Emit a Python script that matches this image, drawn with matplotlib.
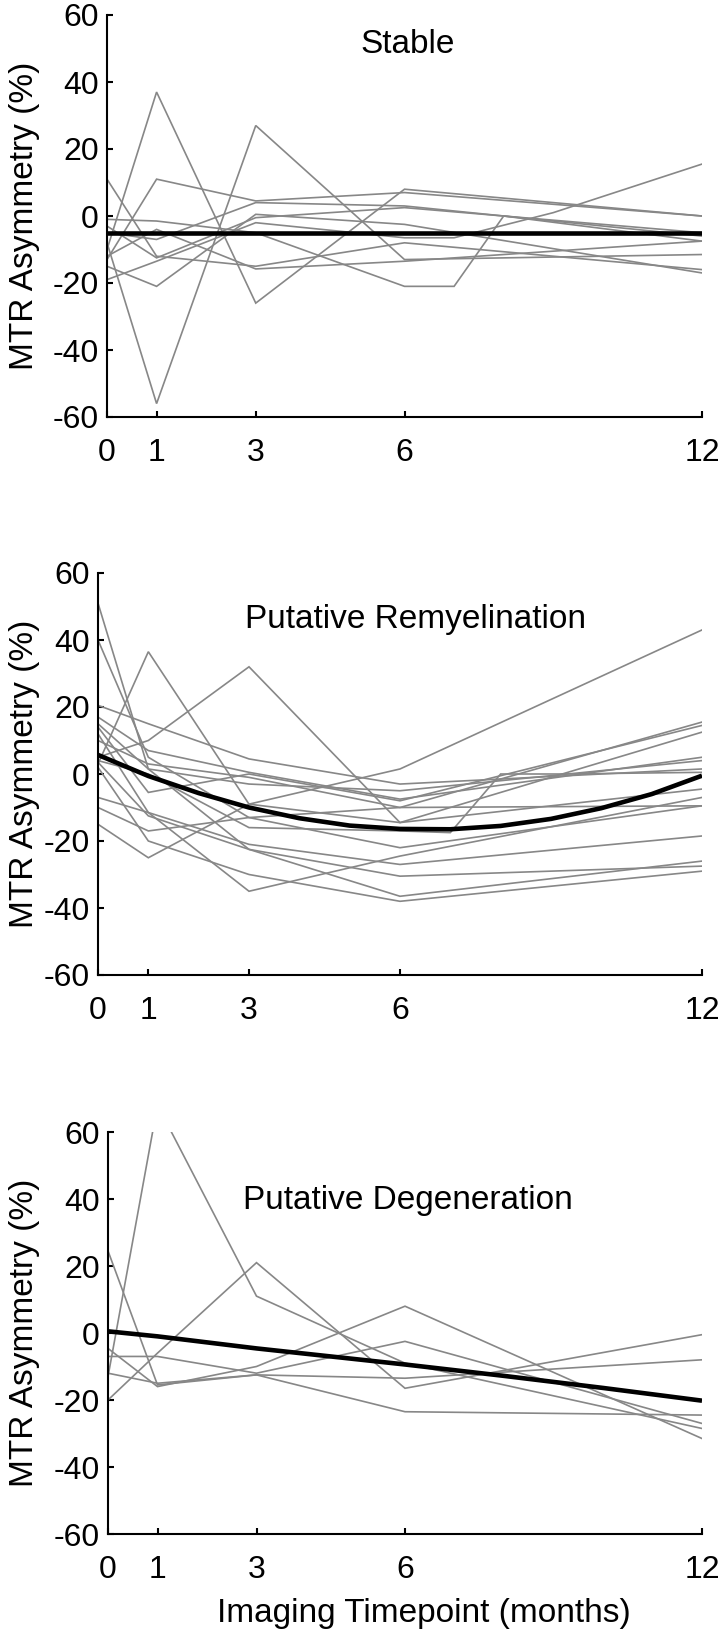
import matplotlib
matplotlib.use("Agg")
import matplotlib.pyplot as plt

plt.rcParams['font.family'] = ['Liberation Sans', 'DejaVu Sans']

# ---------------- data ----------------
months_ticks = [0, 1, 3, 6, 12]
y_ticks = [-60, -40, -20, 0, 20, 40, 60]
t5 = [0, 1, 3, 6, 12]
t_fit = [0, 1, 2, 3, 4, 5, 6, 7, 8, 9, 10, 11, 12]

# Stable group: individual lesions (x, y)
stable_x = [t5, t5, t5, t5, [0, 1, 3, 6, 7, 8, 12], [0, 1, 3, 6, 7, 9, 12],
            t5, t5, t5, t5]
stable_y = [
    [-10, 37, -26, 8, 0],
    [-8, -56, 27, -13, -11.5],
    [-13, 11, 4.5, 7, 0],
    [11, -12, -15, -8, -16],
    [-1, -1.5, -5, -21, -21, 0, -7.5],
    [-19, -13.5, -2, -6.5, -6.5, 1, 15.5],
    [-15, -21, 0.5, -2.5, -17],
    [-5, -7, 4, 3, -6],
    [-12, -4, -15.8, -13.5, -7.5],
    [-3, -12.5, -0.5, 2.5, -5],
]
stable_fit_x = [0, 12]
stable_fit_y = [-5, -5]

# Putative remyelination group
remy_x = [t5, t5, t5, t5, t5, t5, t5, t5, t5, [0, 1, 3, 6, 7, 8, 9.2, 12],
          t5, t5, t5, t5, t5, t5]
remy_y = [
    [51, 1.5, -22.5, -30.5, -27.5],
    [40, 5, -13, -22, -9.5],
    [3, 36.5, -9, 1.5, 43],
    [5, 10, 32, -14.5, 12.5],
    [20.5, 15, 4.5, -3, 1.5],
    [17, 7, 0.5, -7.5, 5],
    [15, 1.5, -3, -5, 4],
    [14, -5.5, 0, -8, 14.5],
    [12, -11.5, -21, -27, -18.5],
    [4, 0, -16, -17, -17.5, 0, 0, 0.5],
    [3.5, -12.5, -22.5, -36.5, -26],
    [2, -20, -30, -38, -29],
    [-7, -11.5, -35, -24.5, -7],
    [-10, -17, -13, -10, -9.5],
    [-15, -25, -9, -14.5, -4.5],
    [10, 3, -1, -10, 15.5],
]
remy_fit_y = [5.7, -0.6, -5.7, -10, -13.2, -15.4, -16.4, -16.5, -15.5, -13.4,
              -10.2, -6, -0.5]

# Putative degeneration group
degen_x = [t5, t5, t5, t5, t5, t5]
degen_y = [
    [-13, 68, 11, -9, -28.5],
    [24.5, -15.5, -12.5, -13.5, -8],
    [-20, -6, 21, -16.5, -0.5],
    [-4.6, -16, -10, 8, -31.5],
    [-7, -7, -12, -2.5, -27],
    [-12, -15, -12.5, -23.5, -24.5],
]
degen_fit_y = [0.5, -1.0, -2.8, -4.6, -6.2, -7.8, -9.4, -11.1, -12.8, -14.6,
               -16.4, -18.3, -20.2]

titles = ["Stable", "Putative Remyelination", "Putative Degeneration"]
ylabel = "MTR Asymmetry (%)"
xlabel = "Imaging Timepoint (months)"

# ---------------- figure ----------------
W, H = 728, 1642
fig = plt.figure(figsize=(W / 100, H / 100), dpi=100)

def rect(x0, x1, ytop, ybot):
    return [x0 / W, 1 - ybot / H, (x1 - x0) / W, (ybot - ytop) / H]

rects = [rect(107, 702, 15, 417), rect(98, 702, 573, 975), rect(108, 702, 1132, 1534)]
title_pos = [(6.07, 51.3), (6.3, 46.1), (6.05, 39.6)]

groups = [
    (stable_x, stable_y, stable_fit_x, stable_fit_y),
    (remy_x, remy_y, t_fit, remy_fit_y),
    (degen_x, degen_y, t_fit, degen_fit_y),
]

gray = '#878787'
FS = 23
FL = 24

for i, (r, (gx, gy, fx, fy)) in enumerate(zip(rects, groups)):
    ax = fig.add_axes(r)
    for xs, ys in zip(gx, gy):
        ax.plot(xs, ys, color=gray, lw=1.2, solid_joinstyle='miter')
    ax.plot(fx, fy, color='black', lw=3.3, solid_capstyle='butt')
    ax.set_xlim(0, 12)
    ax.set_ylim(-60, 60)
    ax.set_xticks(months_ticks)
    ax.set_yticks(y_ticks)
    ax.set_xticklabels([str(v) for v in months_ticks])
    ax.set_yticklabels([str(v) for v in y_ticks])
    for s in ['top', 'right']:
        ax.spines[s].set_visible(False)
    for s in ['left', 'bottom']:
        ax.spines[s].set_linewidth(1.5)
        ax.spines[s].set_color('black')
    ax.tick_params(axis='both', direction='in', length=4, width=1.5,
                   labelsize=FS, colors='black')
    ax.tick_params(axis='x', pad=15)
    ax.tick_params(axis='y', pad=6)
    ax.text(title_pos[i][0], title_pos[i][1], titles[i], ha='center',
            va='center', fontsize=FL)
    fig.text(25 / W, r[1] + r[3] / 2, ylabel, rotation=90, ha='center',
             va='center', fontsize=FL)

fig.text(424 / W, 1 - 1613 / H, xlabel, ha='center', va='center', fontsize=FL)

fig.savefig('out.png', dpi=100)
